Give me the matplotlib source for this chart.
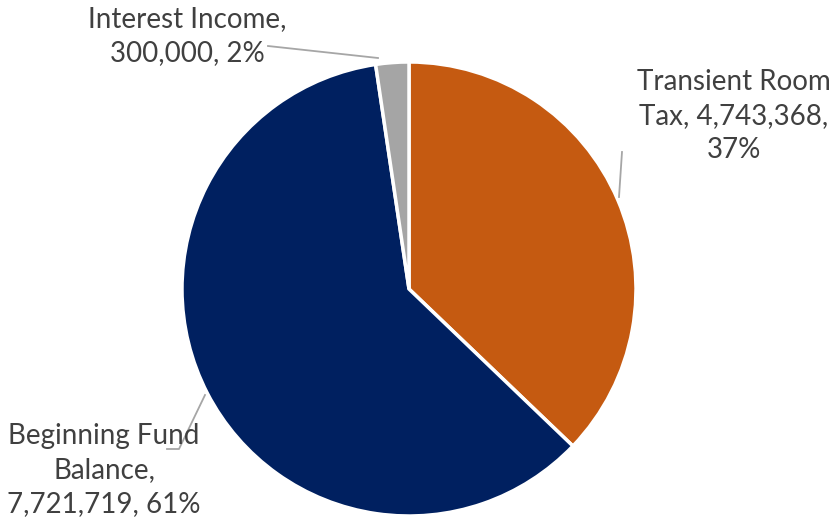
import matplotlib.pyplot as plt

# Revenue sources
names = ["Transient Room\nTax", "Beginning Fund\nBalance", "Interest Income"]
values = [4743368, 7721719, 300000]
pcts = [37, 61, 2]
colors = ["#C55A11", "#002060", "#A5A5A5"]

W, H = 830, 519
fig = plt.figure(figsize=(W / 100, H / 100), dpi=100)
ax = fig.add_axes([0, 0, 1, 1])

cx, cy, r = 409, H - 289, 227
ax.pie(values, colors=colors, startangle=90, counterclock=False,
       center=(cx, cy), radius=r, frame=True,
       wedgeprops=dict(edgecolor="white", linewidth=2.5))
ax.set_xlim(0, W)
ax.set_ylim(0, H)
ax.axis("off")

txt = [f"Transient Room\nTax, {values[0]:,},\n{pcts[0]}%",
       f"Beginning Fund\nBalance,\n{values[1]:,}, {pcts[1]}%",
       f"Interest Income,\n{values[2]:,}, {pcts[2]}%"]

font = dict(family="Lato", fontsize=20, color="#404040",
            ha="center", va="center", linespacing=1.4)
ax.text(734, H - 116, txt[0], **font)
ax.text(104, H - 470, txt[1], **font)
ax.text(187, H - 36, txt[2], **font)

# leader lines
lc = dict(color="#A6A6A6", lw=1.3)
ax.plot([622, 619], [H - 152, H - 197], **lc)
ax.plot([167, 179, 205], [H - 449, H - 449, H - 395], **lc)
ax.plot([268, 378], [H - 46, H - 58], **lc)

fig.savefig("out.png", dpi=100)
